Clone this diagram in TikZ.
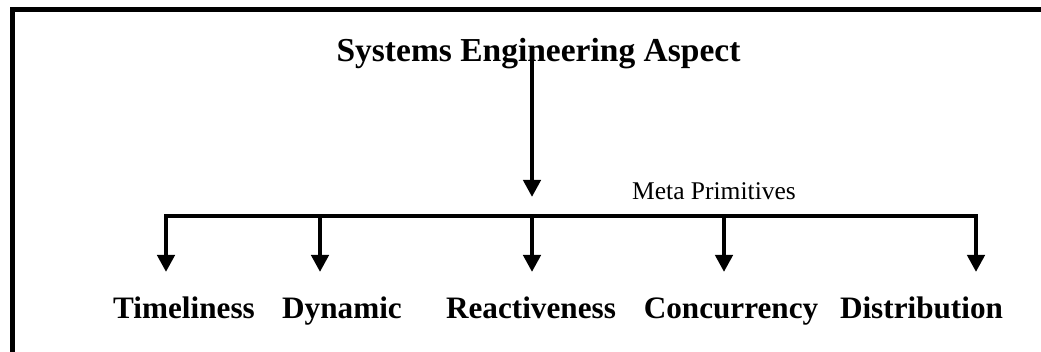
\documentclass[tikz,border=0pt]{standalone}
\usepackage{fontspec}
\setmainfont{Liberation Serif}
\usetikzlibrary{arrows.meta}
\begin{document}
\begin{tikzpicture}[x=1pt,y=-1pt,
  titlestyle/.style={font=\fontsize{33.5}{38}\selectfont\bfseries, inner sep=0pt, anchor=base},
  lbl/.style={font=\fontsize{31.2}{36}\selectfont\bfseries, inner sep=0pt, anchor=base},
  metastyle/.style={font=\fontsize{25.5}{30}\selectfont, inner sep=0pt, anchor=base},
  tip/.style={Triangle[width=17pt,length=17pt]},
  conn/.style={line width=4.5pt, -{Triangle[width=17pt,length=17pt]}},
  busline/.style={line width=4.5pt, {Triangle[width=17pt,length=17pt]}-{Triangle[width=17pt,length=17pt]}},
  framestyle/.style={line width=5pt}]
\useasboundingbox (0,0) rectangle (1041,352);
% frame (left and top edges)
\coordinate (fb) at (12,352);
\coordinate (fc) at (12,10);
\coordinate (fr) at (1041,10);
\draw[framestyle] (fb) -- (fc) -- (fr);
% texts
\node[titlestyle] (title) at (538.5,62) {Systems Engineering Aspect};
\node[metastyle] (meta) at (714,200) {Meta Primitives};
\node[lbl] (l1) at (184,319) {Timeliness};
\node[lbl] (l2) at (342,319) {Dynamic};
\node[lbl] (l3) at (531,319) {Reactiveness};
\node[lbl] (l4) at (731,319) {Concurrency};
\node[lbl] (l5) at (921.5,319) {Distribution};
% bus coordinates
\coordinate (s) at (532,57);
\coordinate (h) at (532,197);
\coordinate (b1) at (166,216);
\coordinate (b2) at (320,216);
\coordinate (b3) at (532,216);
\coordinate (b4) at (724,216);
\coordinate (b5) at (976,216);
\coordinate (t1) at (166,272);
\coordinate (t2) at (320,272);
\coordinate (t3) at (532,272);
\coordinate (t4) at (724,272);
\coordinate (t5) at (976,272);
% connectors
\draw[conn] (s) -- (h);
\draw[busline] (t1) -- (b1) -- (b5) -- (t5);
\draw[conn] (b2) -- (t2);
\draw[conn] (b3) -- (t3);
\draw[conn] (b4) -- (t4);
\end{tikzpicture}
\end{document}
